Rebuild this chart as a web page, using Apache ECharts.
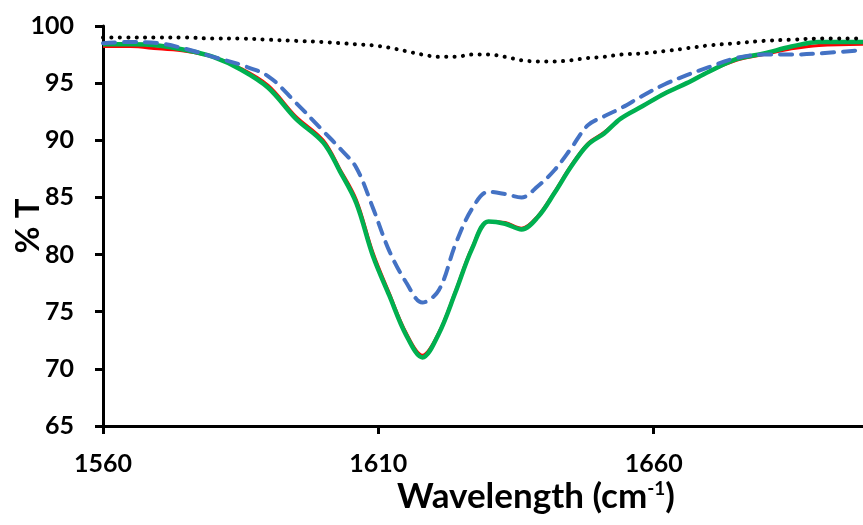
<!DOCTYPE html>
<html>
<head>
<meta charset="utf-8">
<script src="https://cdn.jsdelivr.net/npm/echarts@6/dist/echarts.min.js"></script>
<style>
  html, body { margin: 0; padding: 0; background: #fff; }
  #chart { width: 863px; height: 525px; }
</style>
</head>
<body>
<div id="chart"></div>
<script>
// wavelength (cm-1) sample points
const wavelengths = [1560, 1565, 1570, 1575, 1580, 1585, 1590, 1595, 1600, 1603, 1606, 1609, 1612, 1615, 1618, 1621, 1624, 1627, 1630, 1633, 1636, 1639, 1642, 1645, 1648, 1651, 1654, 1658, 1662, 1666, 1670, 1675, 1680, 1685, 1690, 1698];

// % T values
const dottedBlack = [99.0, 99.0, 99.0, 99.0, 98.9, 98.9, 98.8, 98.7, 98.6, 98.5, 98.4, 98.3, 98.1, 97.8, 97.5, 97.3, 97.3, 97.5, 97.5, 97.3, 97.0, 96.9, 96.9, 97.0, 97.2, 97.3, 97.5, 97.6, 97.8, 98.05, 98.3, 98.5, 98.7, 98.8, 98.9, 98.9];
const dashedBlue = [98.5, 98.6, 98.5, 98.0, 97.3, 96.6, 95.6, 93.3, 90.8, 89.3, 87.6, 84.1, 80.3, 77.6, 75.8, 76.9, 80.9, 84.0, 85.5, 85.3, 85.0, 86.0, 87.4, 89.3, 91.3, 92.1, 92.8, 93.9, 94.9, 95.7, 96.4, 97.2, 97.5, 97.5, 97.6, 97.9];
const solidRed = [98.2, 98.2, 98.0, 97.8, 97.3, 96.3, 94.8, 92.1, 90.0, 87.5, 84.8, 80.2, 76.6, 73.2, 71.2, 73.2, 76.8, 80.6, 82.9, 82.8, 82.3, 83.4, 85.5, 87.8, 89.7, 90.7, 91.9, 93.0, 94.1, 95.0, 96.0, 97.0, 97.5, 98.0, 98.3, 98.4];
const solidGreen = [98.4, 98.4, 98.3, 97.9, 97.3, 96.2, 94.6, 91.9, 89.8, 87.3, 84.5, 79.9, 76.4, 73.0, 71.0, 73.1, 76.7, 80.5, 82.9, 82.7, 82.2, 83.3, 85.4, 87.7, 89.6, 90.6, 91.9, 93.0, 94.1, 95.0, 96.0, 97.1, 97.6, 98.2, 98.6, 98.6];

const yTicks = [65, 70, 75, 80, 85, 90, 95, 100];
const xTicks = [1560, 1610, 1660];

const FONT = 'Lato';

function pairs(ys) {
  return wavelengths.map((w, i) => [w, ys[i]]);
}

const chart = echarts.init(document.getElementById('chart'), null, { renderer: 'canvas' });

chart.setOption({
  backgroundColor: '#fff',
  animation: false,
  grid: { left: 103, right: 0, top: 26, bottom: 99, outerBoundsMode: 'none', containLabel: false },
  xAxis: {
    type: 'value',
    min: 1560,
    max: 1698,
    interval: 50,
    axisLine: { show: true, lineStyle: { color: '#000', width: 3 } },
    axisTick: { show: true, length: 8, lineStyle: { color: '#000', width: 3 } },
    splitLine: { show: false },
    axisLabel: {
      color: '#000', fontFamily: FONT, fontWeight: 'bold', fontSize: 25, margin: 25,
      showMaxLabel: false,
      formatter: v => (xTicks.indexOf(v) >= 0 ? String(v) : '')
    }
  },
  yAxis: {
    type: 'value',
    min: 65,
    max: 100,
    interval: 5,
    axisLine: { show: true, lineStyle: { color: '#000', width: 3 } },
    axisTick: { show: true, length: 8, lineStyle: { color: '#000', width: 3 } },
    splitLine: { show: false },
    axisLabel: {
      color: '#000', fontFamily: FONT, fontWeight: 'bold', fontSize: 25, margin: 29,
      formatter: v => (yTicks.indexOf(v) >= 0 ? String(v) : '')
    },
    name: '% T',
    nameLocation: 'middle',
    nameGap: 58,
    nameMoveOverlap: false,
    nameTextStyle: { color: '#000', fontFamily: FONT, fontWeight: 'bold', fontSize: 33 }
  },
  graphic: [{
    type: 'text',
    left: 397,
    top: 479,
    style: {
      text: '{m|Wavelength (cm}{s|-1}{m|)}',
      rich: {
        m: { fill: '#000', font: 'bold 35px Lato', verticalAlign: 'bottom' },
        s: { fill: '#000', font: 'bold 19px Lato', verticalAlign: 'top', padding: [0, 0, 16, 0] }
      }
    }
  }],
  series: [
    {
      type: 'line', data: pairs(solidRed), smooth: 0.35, symbol: 'none', z: 2,
      lineStyle: { color: '#FF0000', width: 3 }
    },
    {
      type: 'line', data: pairs(solidGreen), smooth: 0.35, symbol: 'none', z: 3,
      lineStyle: { color: '#00B050', width: 4.5 }
    },
    {
      type: 'line', data: pairs(dashedBlue), smooth: 0.35, symbol: 'none', z: 4,
      lineStyle: { color: '#4472C4', width: 4, type: [12, 9], cap: 'round' }
    },
    {
      type: 'line', data: pairs(dottedBlack), smooth: 0.35, symbol: 'none', z: 5,
      lineStyle: { color: '#000', width: 4, type: [0.1, 8.3], cap: 'round' }
    }
  ]
});
</script>
</body>
</html>
